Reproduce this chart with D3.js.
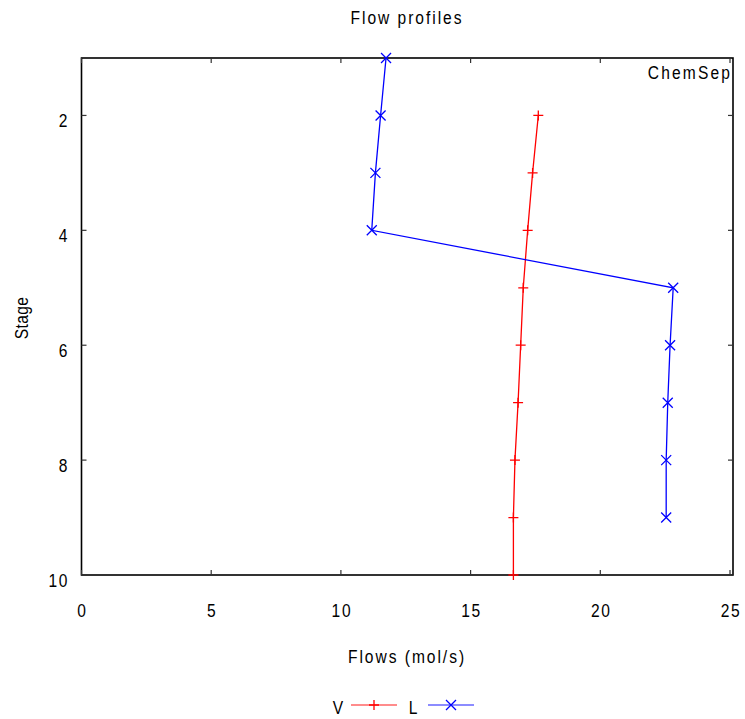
<!DOCTYPE html>
<html>
<head>
<meta charset="utf-8">
<script src="https://cdn.jsdelivr.net/npm/d3@7"></script>
<style>
  html, body { margin: 0; padding: 0; background: #fff; }
  svg text { font-family: "Liberation Sans", Arial, sans-serif; fill: #000; }
</style>
</head>
<body>
<svg id="chart" width="745" height="719"></svg>
<script>
// Stage numbers for each profile
const vStages = [2, 3, 4, 5, 6, 7, 8, 9, 10];
const lStages = [1, 2, 3, 4, 5, 6, 7, 8, 9];
// Vapour (V) and liquid (L) flows, mol/s
const vFlows = [17.61, 17.39, 17.20, 17.03, 16.93, 16.83, 16.71, 16.65, 16.65];
const lFlows = [11.74, 11.53, 11.33, 11.19, 22.81, 22.69, 22.60, 22.54, 22.54];
// Axis ticks
const xTicks = [0, 5, 10, 15, 20, 25];
const yTicks = [2, 4, 6, 8, 10];

const svg = d3.select("#chart");
const pLeft = 81.5, pRight = 733, pTop = 58, pBottom = 575;

const x = d3.scaleLinear().domain([0, 25]).range([81.5, 730]);
const y = d3.scaleLinear().domain([1, 10]).range([pTop, pBottom]);

const fs = 19, squeeze = 0.82;
// Condensed text: horizontally squeezed glyphs with a little tracking
function label(g, tx, ty, str, anchor, spacing, rotate) {
  return g.append("text")
    .attr("transform", `translate(${tx},${ty})${rotate ? " rotate(-90)" : ""} scale(${squeeze},1)`)
    .attr("text-anchor", anchor)
    .attr("font-size", fs)
    .attr("letter-spacing", spacing)
    .text(str);
}

// Frame
svg.append("rect")
  .attr("x", pLeft).attr("y", pTop)
  .attr("width", pRight - pLeft).attr("height", pBottom - pTop)
  .attr("fill", "none").attr("stroke", "#000").attr("stroke-width", 1.6);

// Mirrored inward ticks
const tk = 5;
const ticks = svg.append("g").attr("stroke", "#333").attr("stroke-width", 1.2);
xTicks.forEach(t => {
  ticks.append("line").attr("x1", x(t)).attr("x2", x(t)).attr("y1", pBottom).attr("y2", pBottom - tk);
  ticks.append("line").attr("x1", x(t)).attr("x2", x(t)).attr("y1", pTop).attr("y2", pTop + tk);
});
yTicks.forEach(t => {
  ticks.append("line").attr("x1", pLeft).attr("x2", pLeft + tk).attr("y1", y(t)).attr("y2", y(t));
  ticks.append("line").attr("x1", pRight).attr("x2", pRight - tk).attr("y1", y(t)).attr("y2", y(t));
});

const gx = svg.append("g");
xTicks.forEach(t => label(gx, x(t) + 1, 617, String(t), "middle", 2));
const gy = svg.append("g");
yTicks.forEach(t => label(gy, 69, y(t) + 12, String(t), "end", 2));

// Titles
label(svg, 407, 24, "Flow profiles", "middle", 2.4);
label(svg, 407, 663, "Flows (mol/s)", "middle", 2.4);
label(svg, 28, 318, "Stage", "middle", 0.5, true);
label(svg, 732, 79, "ChemSep", "end", 2.6);

// Markers
function plus(g, cx, cy, color) {
  g.append("path").attr("d", `M${cx - 5},${cy}H${cx + 5}M${cx},${cy - 5}V${cy + 5}`)
    .attr("stroke", color).attr("stroke-width", 1.3).attr("fill", "none");
}
function cross(g, cx, cy, color) {
  g.append("path").attr("d", `M${cx - 5},${cy - 5}L${cx + 5},${cy + 5}M${cx - 5},${cy + 5}L${cx + 5},${cy - 5}`)
    .attr("stroke", color).attr("stroke-width", 1.3).attr("fill", "none");
}

const line = d3.line().x(d => x(d[0])).y(d => y(d[1]));

const vData = vFlows.map((f, i) => [f, vStages[i]]);
const lData = lFlows.map((f, i) => [f, lStages[i]]);

const gV = svg.append("g");
gV.append("path").datum(vData).attr("d", line).attr("fill", "none").attr("stroke", "#ff0000").attr("stroke-width", 1.3);
vData.forEach(d => plus(gV, x(d[0]), y(d[1]), "#ff0000"));

const gL = svg.append("g");
gL.append("path").datum(lData).attr("d", line).attr("fill", "none").attr("stroke", "#0000ff").attr("stroke-width", 1.3);
lData.forEach(d => cross(gL, x(d[0]), y(d[1]), "#0000ff"));

// Legend
const ly = 705;
const leg = svg.append("g");
label(leg, 338, ly + 9, "V", "middle", 0);
leg.append("line").attr("x1", 351).attr("x2", 397).attr("y1", ly).attr("y2", ly).attr("stroke", "#ff0000").attr("stroke-width", 1.3).attr("opacity", 0.6);
plus(leg, 374, ly, "#ff0000");
label(leg, 413, ly + 9, "L", "middle", 0);
leg.append("line").attr("x1", 428).attr("x2", 474).attr("y1", ly).attr("y2", ly).attr("stroke", "#0000ff").attr("stroke-width", 1.3).attr("opacity", 0.6);
cross(leg, 451, ly, "#0000ff");
</script>
</body>
</html>
